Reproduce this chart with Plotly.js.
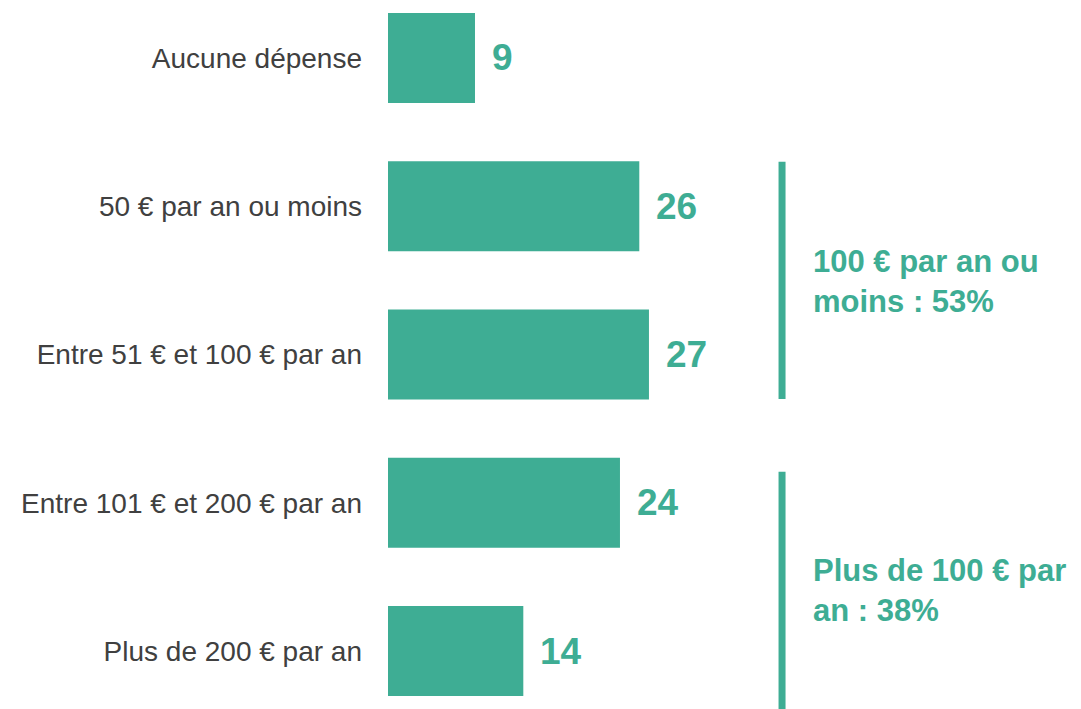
<!DOCTYPE html>
<html>
<head>
<meta charset="utf-8">
<script src="https://cdn.plot.ly/plotly-3.0.1.min.js"></script>
<style>html,body{margin:0;padding:0;background:#fff;}#chart{width:1081px;height:709px;}</style>
</head>
<body>
<div id="chart"></div>
<script>
const categories = ["Aucune dépense", "50 € par an ou moins", "Entre 51 € et 100 € par an", "Entre 101 € et 200 € par an", "Plus de 200 € par an"];
const values = [9, 26, 27, 24, 14];
const groupLabels = ["100 € par an ou<br>moins : 53%", "Plus de 100 € par<br>an : 38%"];
const groupSpans = [[0.70, 2.30], [2.79, 4.40]];
const groupLabelPos = [1.51, 3.59];

const teal = "#3EAD94";
const grey = "#404040";

const trace = {
  type: "bar",
  orientation: "h",
  x: values,
  y: categories,
  marker: {color: teal},
  width: 0.607,
  hoverinfo: "none"
};

const annotations = values.map((v, i) => ({
  x: v, y: categories[i], xref: "x", yref: "y",
  text: String(v), showarrow: false, xanchor: "left", yanchor: "middle",
  xshift: 15,
  font: {family: "Liberation Sans, Arial, sans-serif", size: 37, color: teal, weight: "bold"}
}));
groupLabels.forEach((t, i) => {
  annotations.push({
    x: 0.6105, xref: "paper", y: groupLabelPos[i], yref: "y",
    text: "<b>" + t + "</b>", showarrow: false, xanchor: "left", yanchor: "middle", align: "left",
    font: {family: "Liberation Sans, Arial, sans-serif", size: 31, color: teal}
  });
});

const shapes = groupSpans.map(s => ({
  type: "line", xref: "paper", yref: "y", x0: 0.5686, x1: 0.5686, y0: s[0], y1: s[1],
  line: {color: teal, width: 7}
}));

const layout = {
  width: 1081, height: 709,
  margin: {l: 388, r: 0, t: 0, b: 0},
  paper_bgcolor: "#ffffff", plot_bgcolor: "#ffffff",
  showlegend: false,
  xaxis: {range: [0, 71.7], visible: false, fixedrange: true},
  yaxis: {
    type: "category",
    range: [4.391, -0.391],
    showgrid: false, zeroline: false, showline: false, ticks: "",
    ticklabelstandoff: 25,
    tickfont: {family: "Liberation Sans, Arial, sans-serif", size: 28, color: grey},
    fixedrange: true
  },
  annotations: annotations,
  shapes: shapes
};

Plotly.newPlot("chart", [trace], layout, {displayModeBar: false, staticPlot: true});
</script>
</body>
</html>
